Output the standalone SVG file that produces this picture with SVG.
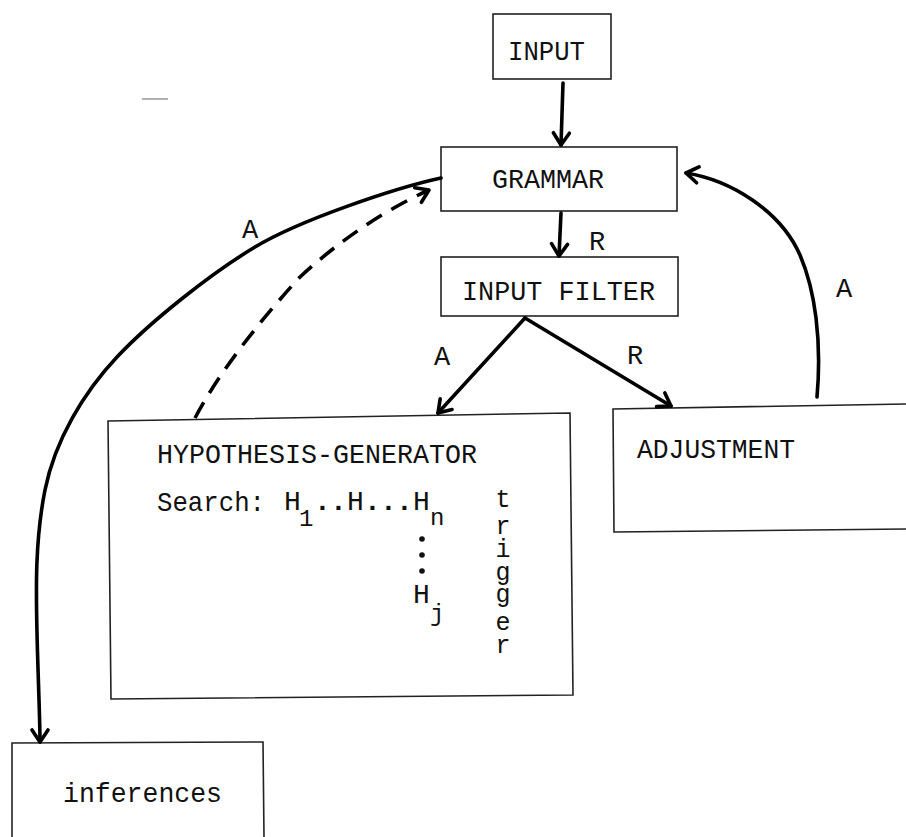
<svg xmlns="http://www.w3.org/2000/svg" width="906" height="837" viewBox="0 0 906 837">
<style>
  .box { fill: none; stroke: #222; stroke-width: 1.6; }
  .t { font-family: "Liberation Mono", "Courier New", monospace; font-size: 28px; fill: #111; }
  .lbl { font-family: "Liberation Mono", "Courier New", monospace; font-size: 27px; fill: #111; text-anchor: middle; }
  .vt { font-family: "Liberation Mono", "Courier New", monospace; font-size: 25px; fill: #111; text-anchor: middle; }
  .sub { font-family: "Liberation Mono", "Courier New", monospace; font-size: 24px; fill: #111; }
  .b { font-weight: bold; }
  .conn { fill: none; stroke: #000; stroke-width: 3.6; stroke-linecap: round; stroke-linejoin: round; }
  .dash { stroke-dasharray: 18 11; stroke-linecap: butt; }
</style>
<defs>
  <marker id="ah" markerUnits="userSpaceOnUse" viewBox="-16 -12 20 24" refX="0" refY="0" markerWidth="20" markerHeight="24" orient="auto">
    <path d="M-12,-8 L0,0 L-12,8" fill="none" stroke="#000" stroke-width="3.6" stroke-linecap="round" stroke-linejoin="round"/>
  </marker>
</defs>
<rect width="906" height="837" fill="#fff"/>
<line x1="142" y1="99" x2="168" y2="99" stroke="#999" stroke-width="1.5"/>

<g id="input">
  <rect class="box" x="493" y="14" width="118" height="65"/>
  <text class="t" x="508" y="60" textLength="77" lengthAdjust="spacingAndGlyphs">INPUT</text>
</g>
<g id="grammar">
  <rect class="box" x="441" y="147" width="236" height="64"/>
  <text class="t" x="492" y="188" textLength="112" lengthAdjust="spacingAndGlyphs">GRAMMAR</text>
</g>
<g id="input-filter">
  <rect class="box" x="441" y="257" width="237" height="59"/>
  <text class="t" x="462" y="300" textLength="193" lengthAdjust="spacingAndGlyphs">INPUT FILTER</text>
</g>
<g id="hypothesis-generator">
  <path class="box" d="M108,421 L570,413 L573,695 L111,699 Z"/>
  <text class="t" x="157" y="463" textLength="320" lengthAdjust="spacingAndGlyphs">HYPOTHESIS-GENERATOR</text>
  <text class="t" x="157" y="511" textLength="108" lengthAdjust="spacingAndGlyphs">Search:</text>
  <text class="t" y="510"><tspan x="284">H</tspan><tspan class="b" x="314 330">..</tspan><tspan x="347">H</tspan><tspan class="b" x="364 380 396">...</tspan><tspan x="413">H</tspan></text>
  <text class="sub" x="299" y="526">1</text>
  <text class="sub" x="430" y="525">n</text>
  <circle cx="422" cy="539" r="2.8" fill="#111"/>
  <circle cx="422" cy="555" r="2.8" fill="#111"/>
  <circle cx="422" cy="571" r="2.8" fill="#111"/>
  <text class="t" x="413" y="603">H</text>
  <text class="sub" x="430" y="621">j</text>
  <text class="vt" x="503 503 503 503 503 503 503" y="507 534 557 580 602 630 653">trigger</text>
</g>
<g id="adjustment">
  <path class="box" d="M906,404 L613,409 L614,532 L906,529"/>
  <text class="t" x="637" y="458" textLength="158" lengthAdjust="spacingAndGlyphs">ADJUSTMENT</text>
</g>
<g id="inferences">
  <path class="box" d="M12,837 L12,743 L263,742 L264,837"/>
  <text class="t" x="63" y="802" textLength="159" lengthAdjust="spacingAndGlyphs">inferences</text>
</g>

<g id="connectors">
  <path class="conn" d="M563,83 L561,145" marker-end="url(#ah)"/>
  <path class="conn" d="M561,213 L559,256" marker-end="url(#ah)"/>
  <path class="conn" d="M525,318 L438,413" marker-end="url(#ah)"/>
  <path class="conn" d="M525,318 L671,406" marker-end="url(#ah)"/>
  <path class="conn" d="M441,178 C395,188 300,220 255,247 C210,274 150,322 117,357 C84,392 55,440 45,490 C35,540 36,590 37,633 C38,676 40,720 40,742" marker-end="url(#ah)"/>
  <path class="conn dash" d="M195,418 C220,370 265,315 300,277 C340,240 385,210 429,190" marker-end="url(#ah)"/>
  <path class="conn" d="M817,397 C822,340 815,290 800,255 C780,210 730,180 686,173" marker-end="url(#ah)"/>
  <text class="lbl" x="597" y="250">R</text>
  <text class="lbl" x="250" y="238">A</text>
  <text class="lbl" x="442" y="365">A</text>
  <text class="lbl" x="635" y="364">R</text>
  <text class="lbl" x="844" y="297">A</text>
</g>
</svg>
